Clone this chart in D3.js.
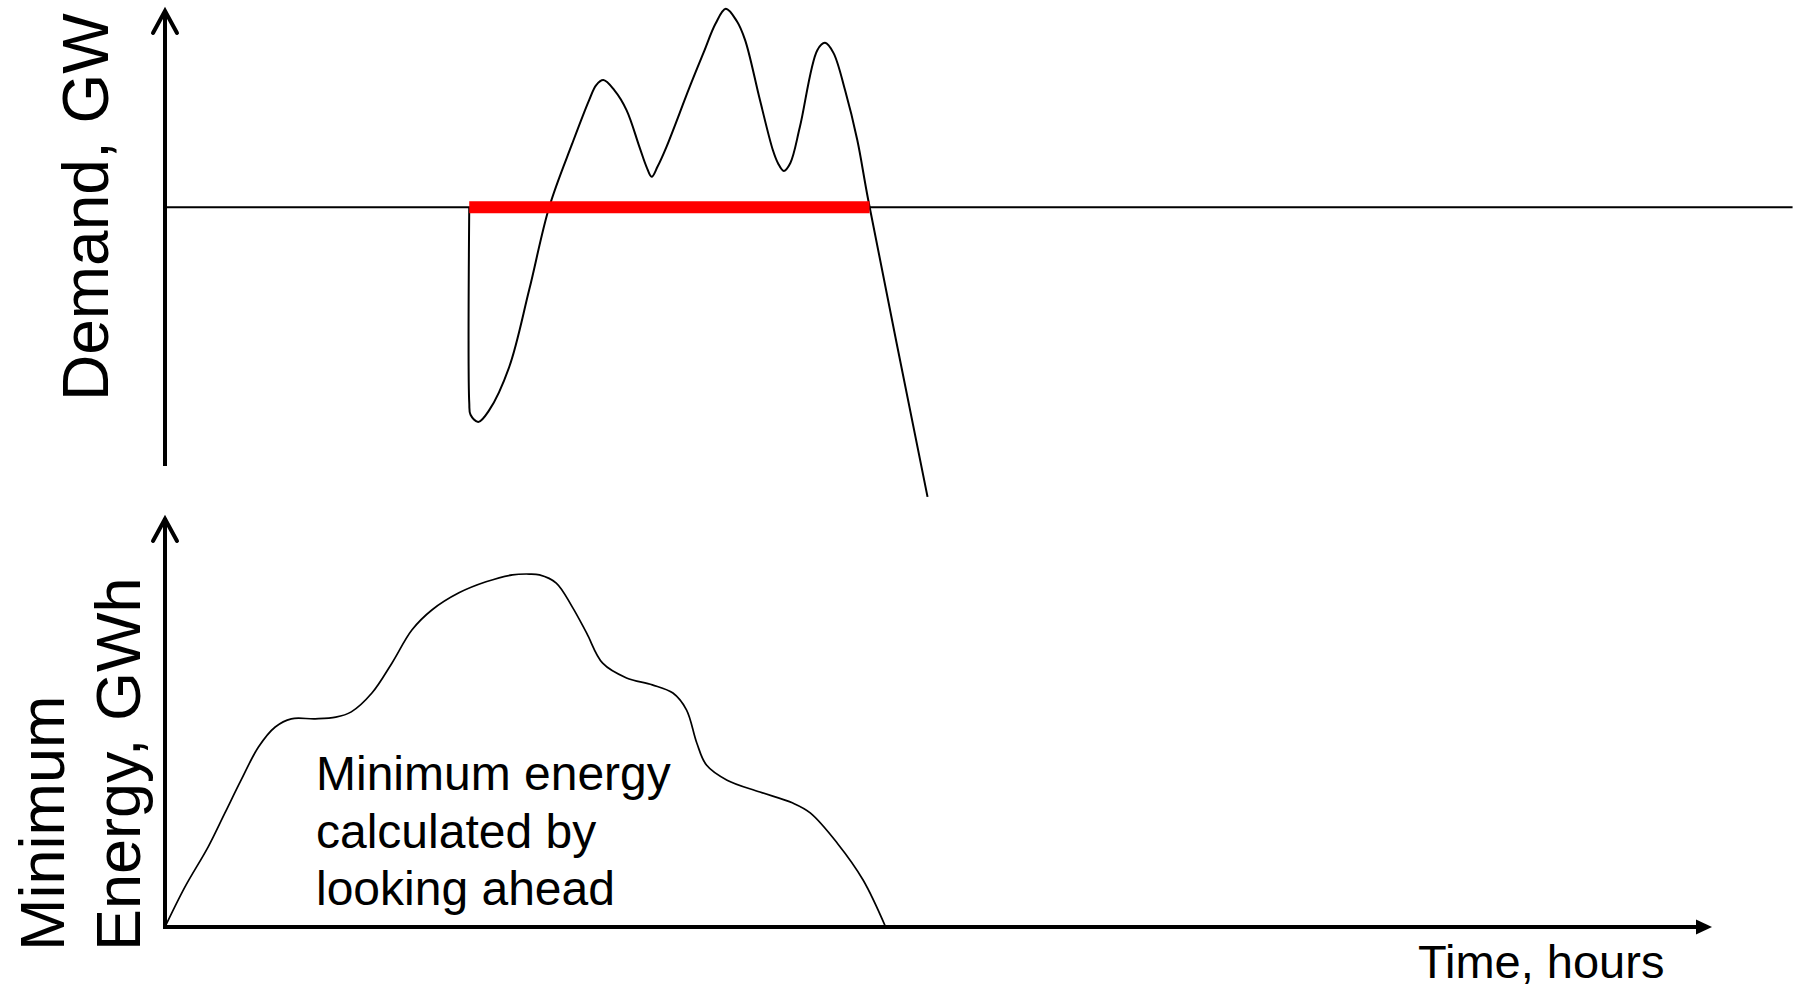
<!DOCTYPE html>
<html>
<head>
<meta charset="utf-8">
<script src="https://cdn.jsdelivr.net/npm/d3@7"></script>
<style>
  html, body { margin: 0; padding: 0; background: #fff; }
  svg { display: block; }
  text { font-family: "Liberation Sans", Arial, Helvetica, sans-serif; fill: #000; }
</style>
</head>
<body>
<svg id="chart" width="1805" height="989"></svg>
<script>
// ---------- data ----------
// Demand curve (hours, GW-relative units)
const demandHours = [4.72, 4.72, 4.74, 4.86, 5.03, 5.34, 5.65, 5.96, 6.32, 6.58, 6.69, 6.80, 6.97, 7.16, 7.36, 7.47, 7.55, 7.64, 7.78, 8.14, 8.36, 8.54, 8.70, 8.87, 9.00, 9.23, 9.43, 9.51, 9.60, 9.70, 9.85, 10.12, 10.24, 10.37, 10.55, 10.74, 10.91, 11.83];
const demandValues = [57.0, 14.0, 11.3, 9.7, 12.3, 21.8, 38.8, 57.0, 71.1, 80.6, 83.9, 85.0, 82.8, 78.4, 70.3, 65.9, 63.7, 65.9, 70.3, 83.5, 91.2, 97.4, 100.7, 98.0, 93.8, 80.6, 69.6, 66.7, 65.0, 66.7, 74.7, 91.6, 93.2, 91.0, 82.8, 71.8, 58.6, -6.8];
// Threshold level and the highlighted interval
const thresholdValue = 57.0;
const thresholdSpan = [4.72, 10.93];
const thresholdLineEnd = 25.25;
// Minimum energy curve (hours, GWh-relative units)
const energyHours = [0, 0.31, 0.67, 0.93, 1.18, 1.45, 1.71, 1.96, 2.33, 2.65, 2.89, 3.21, 3.52, 3.83, 4.14, 4.56, 4.98, 5.39, 5.65, 5.81, 6.07, 6.32, 6.54, 6.79, 7.16, 7.56, 7.88, 8.09, 8.25, 8.40, 8.72, 9.23, 9.74, 10.01, 10.43, 10.83, 11.18];
const energyValues = [0, 9.8, 19.6, 27.9, 35.9, 44.0, 48.9, 50.9, 50.9, 51.3, 52.6, 57.2, 64.5, 72.6, 77.5, 81.7, 84.4, 86.1, 86.3, 86.1, 84.1, 78.2, 71.9, 64.5, 60.9, 59.2, 57.2, 53.1, 45.0, 39.6, 35.9, 33.0, 30.3, 27.9, 20.5, 11.5, 0];
// Text
const topYLabel = ["Demand, GW"];
const bottomYLabel = ["Minimum", "Energy, GWh"];
const xLabel = "Time, hours";
const annotation = ["Minimum energy", "calculated by", "looking ahead"];
const tickLabels = []; // the chart has no tick labels

// ---------- layout ----------
const svg = d3.select("#chart");
const x = d3.scaleLinear().domain([0, 24]).range([165, 1712]);
const yTop = d3.scaleLinear().domain([0, 100]).range([466, 12]);
const yBot = d3.scaleLinear().domain([0, 100]).range([927, 518]);

const demand = demandHours.map((h, i) => [h, demandValues[i]]);
const energy = energyHours.map((h, i) => [h, energyValues[i]]);

// ---------- top panel ----------
svg.append("line")
  .attr("x1", x(0)).attr("x2", x(thresholdLineEnd))
  .attr("y1", yTop(thresholdValue)).attr("y2", yTop(thresholdValue))
  .attr("stroke", "#000").attr("stroke-width", 2);

const lineTop = d3.line()
  .x(d => x(d[0])).y(d => yTop(d[1]))
  .curve(d3.curveCatmullRom.alpha(0.5));
svg.append("path").datum(demand)
  .attr("d", lineTop)
  .attr("fill", "none").attr("stroke", "#000").attr("stroke-width", 2);

svg.append("line")
  .attr("x1", x(thresholdSpan[0])).attr("x2", x(thresholdSpan[1]))
  .attr("y1", yTop(thresholdValue)).attr("y2", yTop(thresholdValue))
  .attr("stroke", "#ff0000").attr("stroke-width", 12);

const axTopX = x(0);
svg.append("line")
  .attr("x1", axTopX).attr("x2", axTopX)
  .attr("y1", yTop.range()[0]).attr("y2", 12)
  .attr("stroke", "#000").attr("stroke-width", 4);
svg.append("path")
  .attr("d", `M${axTopX - 12},33 L${axTopX},11 L${axTopX + 12},33`)
  .attr("fill", "none").attr("stroke", "#000").attr("stroke-width", 4)
  .attr("stroke-linecap", "round").attr("stroke-linejoin", "miter");

svg.append("text")
  .attr("transform", `translate(108,401) rotate(-90)`)
  .attr("font-size", 64)
  .text(topYLabel[0]);

// ---------- bottom panel ----------
const lineBot = d3.line()
  .x(d => x(d[0])).y(d => yBot(d[1]))
  .curve(d3.curveCatmullRom.alpha(0.5));
svg.append("path").datum(energy)
  .attr("d", lineBot)
  .attr("fill", "none").attr("stroke", "#000").attr("stroke-width", 1.7);

svg.append("line")
  .attr("x1", x(0)).attr("x2", x(0))
  .attr("y1", yBot(0) + 2).attr("y2", yBot.range()[1])
  .attr("stroke", "#000").attr("stroke-width", 4);
svg.append("path")
  .attr("d", `M${x(0) - 12},541 L${x(0)},519 L${x(0) + 12},541`)
  .attr("fill", "none").attr("stroke", "#000").attr("stroke-width", 4)
  .attr("stroke-linecap", "round");

svg.append("line")
  .attr("x1", x(0) - 2).attr("x2", x(24) - 12)
  .attr("y1", yBot(0)).attr("y2", yBot(0))
  .attr("stroke", "#000").attr("stroke-width", 4);
svg.append("path")
  .attr("d", `M${x(24)},${yBot(0)} L${x(24) - 16},${yBot(0) - 7.5} L${x(24) - 16},${yBot(0) + 7.5} Z`)
  .attr("fill", "#000");

svg.append("text")
  .attr("x", 1418).attr("y", 978)
  .attr("font-size", 47)
  .text(xLabel);

const botLabelX = [64, 140];
bottomYLabel.forEach((t, i) => {
  svg.append("text")
    .attr("transform", `translate(${botLabelX[i]},951) rotate(-90)`)
    .attr("font-size", 63)
    .text(t);
});

const annY = [790, 848, 905];
annotation.forEach((t, i) => {
  svg.append("text")
    .attr("x", 316).attr("y", annY[i])
    .attr("font-size", 48)
    .text(t);
});
</script>
</body>
</html>
